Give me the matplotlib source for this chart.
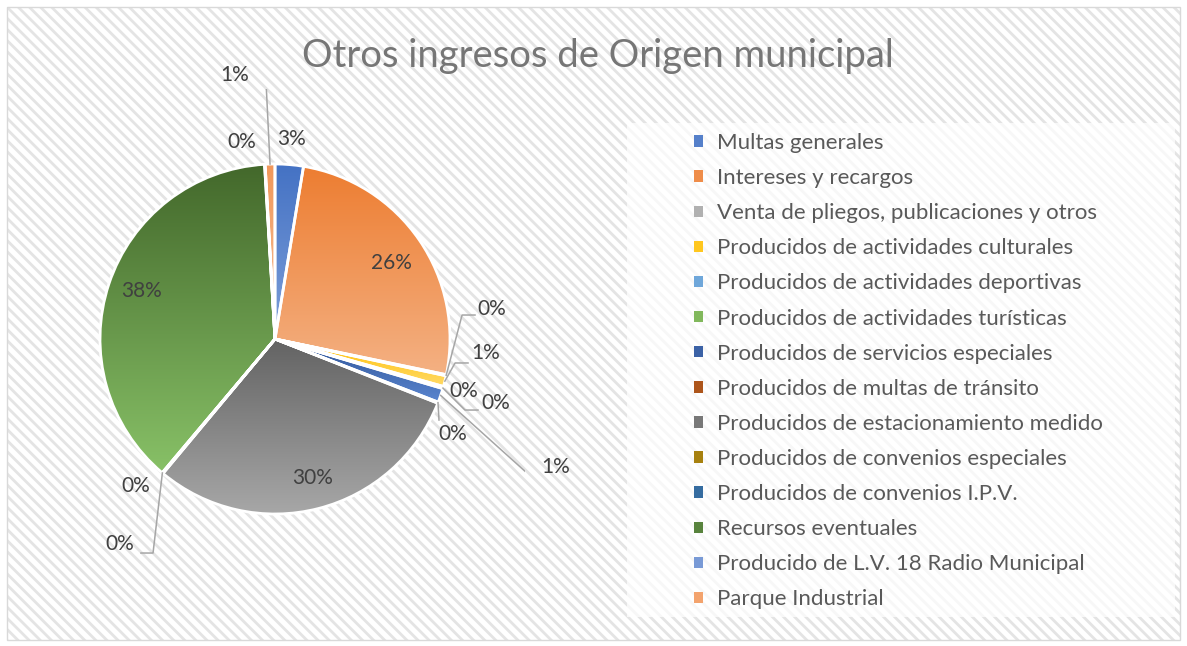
import matplotlib.pyplot as plt
import numpy as np
from matplotlib.patches import Rectangle, Patch
from matplotlib.colors import to_rgb

plt.rcParams['font.family'] = ['Lato', 'DejaVu Sans']
plt.rcParams['hatch.linewidth'] = 2.0

titulo = 'Otros ingresos de Origen municipal'

categorias = [
    'Multas generales',
    'Intereses y recargos',
    'Venta de pliegos, publicaciones y otros',
    'Producidos de actividades culturales',
    'Producidos de actividades deportivas',
    'Producidos de actividades turísticas',
    'Producidos de servicios especiales',
    'Producidos de multas de tránsito',
    'Producidos de estacionamiento medido',
    'Producidos de convenios especiales',
    'Producidos de convenios I.P.V.',
    'Recursos eventuales',
    'Producido de L.V. 18 Radio Municipal',
    'Parque Industrial',
]

# porcentajes
valores = [2.6, 25.6, 0.1, 1.0, 0.1, 0.1, 1.3, 0.1, 30.0, 0.05, 0.05, 37.8, 0.05, 0.9]

# degradado de cada porcion (arriba -> abajo)
color_arriba = ['#4472C4', '#ED7D31', '#A5A5A5', '#FFC000', '#5B9BD5', '#70AD47', '#2E5395',
                '#9E480E', '#636363', '#997300', '#255E91', '#43682B', '#698ED0', '#F1975A']
color_abajo = ['#7E9FD9', '#F4B183', '#C9C9C9', '#FFD966', '#9DC3E6', '#A9D18E', '#5A85CF',
               '#D0743A', '#A8A8A8', '#C9A232', '#5B8EC2', '#88C167', '#9FB7E3', '#F6C09A']

# posicion de las etiquetas (en radios) y codo de la linea guia
pos_etiqueta = [(0.097, 1.143), (0.663, 0.434), (1.240, 0.171), (1.206, -0.080),
                (1.080, -0.297), (1.263, -0.366), (1.606, -0.731), (1.017, -0.543),
                (0.217, -0.794), (-0.794, -0.840), (-0.886, -1.171), (-0.760, 0.274),
                (-0.189, 1.126), (-0.229, 1.509)]
guia = [None, None,
        [(1.069, 0.137), (1.143, 0.137)],
        [(1.029, -0.137), (1.103, -0.137)],
        None,
        [(1.086, -0.406), (1.160, -0.406)],
        [(1.440, -0.766), (1.503, -0.766)],
        [(0.937, -0.463)],
        None, None,
        [(-0.697, -1.223), (-0.766, -1.223)],
        None, None,
        [(-0.051, 1.463), (-0.126, 1.463)]]

W, H = 1187, 646
fig = plt.figure(figsize=(W / 100, H / 100), dpi=100)

# fondo rayado y marco
fondo = Rectangle((7 / W, 6 / H), 1173 / W, 633 / H, transform=fig.transFigure,
                  facecolor='white', edgecolor='#e4e4e4', linewidth=0, hatch='\\\\\\', zorder=0)
fig.add_artist(fondo)
marco = Rectangle((7 / W, 6 / H), 1173 / W, 633 / H, transform=fig.transFigure,
                  fill=False, edgecolor='#d9d9d9', linewidth=1, zorder=0.1)
fig.add_artist(marco)
caja = Rectangle((627 / W, 29 / H), 548 / W, 494 / H, transform=fig.transFigure,
                 facecolor='white', alpha=0.72, edgecolor='none', zorder=0.2)
fig.add_artist(caja)

fig.text(598 / W, 1 - 56 / H, titulo, ha='center', va='center', fontsize=27.5, color='#767676')

ax = fig.add_axes([25 / W, 57 / H, 500 / W, 500 / H])
ax.set_facecolor('none')

wedges, _ = ax.pie(valores, startangle=90, counterclock=False, colors=color_arriba,
                   wedgeprops=dict(edgecolor='white', linewidth=2))

for w, c1, c2 in zip(wedges, color_arriba, color_abajo):
    v = w.get_path().vertices
    t = np.linspace(0, 1, 256)[:, None]
    grad = (1 - t) * np.array(to_rgb(c1)) + t * np.array(to_rgb(c2))
    im = ax.imshow(grad[:, None, :], extent=[v[:, 0].min(), v[:, 0].max(), v[:, 1].min(), v[:, 1].max()],
                   origin='upper', aspect='auto', zorder=1, interpolation='bilinear')
    im.set_clip_path(w)
    w.set_facecolor('none')
    w.set_zorder(2)

total = sum(valores)
for w, val, (lx, ly), g in zip(wedges, valores, pos_etiqueta, guia):
    ax.text(lx, ly, f'{val / total * 100:.0f}%', ha='center', va='center',
            fontsize=15, color='#404040', zorder=3)
    if g:
        ang = np.deg2rad((w.theta1 + w.theta2) / 2)
        xs = [np.cos(ang)] + [p[0] for p in g]
        ys = [np.sin(ang)] + [p[1] for p in g]
        ax.plot(xs, ys, color='#a6a6a6', lw=1.1, zorder=3)

lim = 250 / 175
ax.set_xlim(-lim, lim)
ax.set_ylim(-lim, lim)
ax.set_aspect('equal')
ax.axis('off')

manijas = [Patch(facecolor=tuple(0.7 * np.array(to_rgb(a)) + 0.3 * np.array(to_rgb(b))), edgecolor='none')
           for a, b in zip(color_arriba, color_abajo)]
fig.legend(manijas, categorias, loc='upper left', bbox_to_anchor=(694 / W, 1 - 133 / H),
           frameon=False, fontsize=16, labelcolor='#595959', handlelength=0.42, handleheight=0.42,
           handletextpad=0.6, labelspacing=0.68, borderpad=0, borderaxespad=0)

fig.savefig('out.png', dpi=100)
